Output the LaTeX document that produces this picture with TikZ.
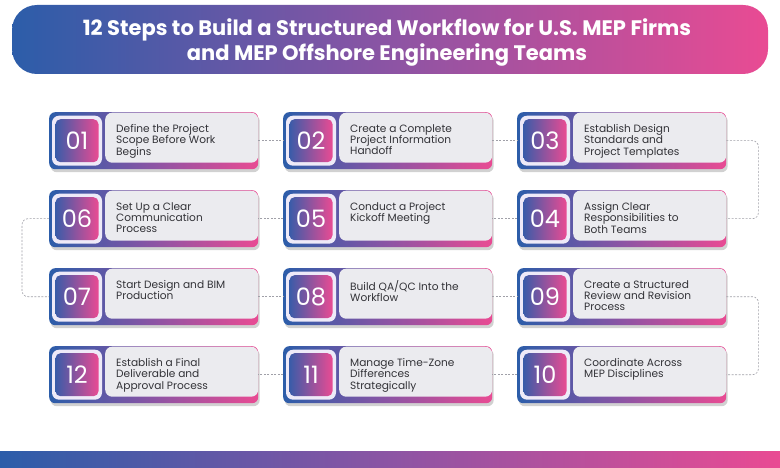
\documentclass[tikz,border=0pt]{standalone}
\usepackage{fontspec}
\setmainfont{Poppins}
\usetikzlibrary{calc,shadows}

\definecolor{mepblue}{HTML}{2C5DA9}
\definecolor{meppurple}{HTML}{8C54A4}
\definecolor{meppink}{HTML}{E94B93}
\definecolor{panelgray}{HTML}{EBEBEF}
\definecolor{rimwhite}{HTML}{EEEAF8}
\definecolor{textgray}{HTML}{333338}
\definecolor{linkgray}{HTML}{A0A0A8}

\tikzset{
	cardframe/.style={minimum width=209pt, minimum height=57pt, inner sep=0pt,
		rounded corners=6pt, left color=mepblue, right color=meppink, middle color=meppurple,
		drop shadow={shadow xshift=1.5pt, shadow yshift=-3pt, opacity=0.18, fill=black}},
	panel/.style={minimum width=153pt, minimum height=50pt, inner sep=0pt,
		rounded corners=7pt, fill=panelgray},
	numrim/.style={minimum width=50pt, minimum height=50pt, inner sep=0pt,
		rounded corners=7pt, fill=rimwhite},
	numbox/.style={minimum width=43pt, minimum height=43pt, inner sep=0pt,
		rounded corners=5pt, left color=mepblue!85!meppurple, right color=meppink,
		text=white, font=\fontsize{24}{24}\selectfont},
	steptext/.style={anchor=north west, inner sep=0pt, align=left, text=textgray,
		font=\fontsize{10.6}{11.4}\selectfont},
	link/.style={draw=linkgray, line width=0.6pt, dash pattern=on 2pt off 1.5pt}
}

% one step card: name, left x, top y, number, text
\newcommand{\stepcard}[5]{%
	\node[cardframe, anchor=north west] (#1) at (#2,#3) {};
	\node[panel, anchor=north east] (#1p) at ([yshift=-0.5pt]#1.north east) {};
	\node[numrim] (#1r) at ([xshift=28pt]#1.west) {};
	\node[numbox] (#1n) at (#1r) {#4};
	\node[steptext] (#1t) at ([xshift=67pt, yshift=-12pt]#1.north west) {#5};
}

\begin{document}
\begin{tikzpicture}[x=1pt, y=-1pt]
	\useasboundingbox[fill=white] (0,0) rectangle (780,468);

	% title banner
	\shade[left color=mepblue, right color=meppink, middle color=meppurple, rounded corners=25pt]
		(12,5) rectangle (768,74);
	\node[text=white, align=center, font=\fontsize{21}{25}\selectfont\bfseries] (title) at (387,42)
		{12 Steps to Build a Structured Workflow for U.S. MEP Firms\\and MEP Offshore Engineering Teams};

	% cards
	\stepcard{s1}{49}{112}{01}{Define the Project\\Scope Before Work\\Begins}
	\stepcard{s2}{283}{112}{02}{Create a Complete\\Project Information\\Handoff}
	\stepcard{s3}{517}{112}{03}{Establish Design\\Standards and\\Project Templates}
	\stepcard{s6}{49}{190}{06}{Set Up a Clear\\Communication\\Process}
	\stepcard{s5}{283}{190}{05}{Conduct a Project\\Kickoff Meeting}
	\stepcard{s4}{517}{190}{04}{Assign Clear\\Responsibilities to\\Both Teams}
	\stepcard{s7}{49}{268}{07}{Start Design and BIM\\Production}
	\stepcard{s8}{283}{268}{08}{Build QA/QC Into the\\Workflow}
	\stepcard{s9}{517}{268}{09}{Create a Structured\\Review and Revision\\Process}
	\stepcard{s12}{49}{346}{12}{Establish a Final\\Deliverable and\\Approval Process}
	\stepcard{s11}{283}{346}{11}{Manage Time-Zone\\Differences\\Strategically}
	\stepcard{s10}{517}{346}{10}{Coordinate Across\\MEP Disciplines}

	% dashed links between cards
	\draw[link] (s1.east) -- (s2.west);
	\draw[link] (s2.east) -- (s3.west);
	\draw[link, rounded corners=6pt] (s3.east) -- ++(32,0) |- (s4.east);
	\draw[link] (s4.west) -- (s5.east);
	\draw[link] (s5.west) -- (s6.east);
	\draw[link, rounded corners=6pt] (s6.west) -- ++(-27,0) |- (s7.west);
	\draw[link] (s7.east) -- (s8.west);
	\draw[link] (s8.east) -- (s9.west);
	\draw[link, rounded corners=6pt] (s9.east) -- ++(32,0) |- (s10.east);
	\draw[link] (s10.west) -- (s11.east);
	\draw[link] (s11.west) -- (s12.east);

	% bottom bar
	\shade[left color=mepblue, right color=meppink, middle color=meppurple] (0,451) rectangle (780,468);
\end{tikzpicture}
\end{document}
